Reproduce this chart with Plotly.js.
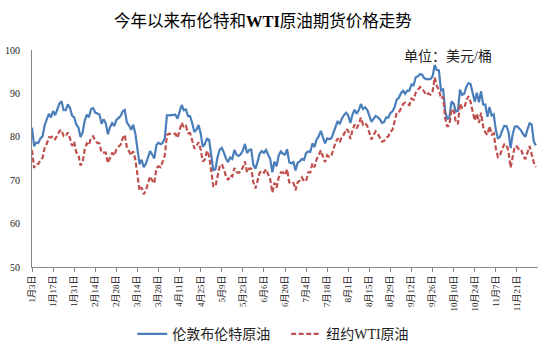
<!DOCTYPE html>
<html>
<head>
<meta charset="utf-8">
<script src="https://cdn.plot.ly/plotly-3.0.1.min.js"></script>
<style>html,body{margin:0;padding:0;background:#fff;}#chart{width:550px;height:362px;}</style>
</head>
<body>
<div id="chart"></div>
<script>
// Trading-day series, weekdays 2023-01-03 .. 2023-12-04 (index = trading day)
const tickLabels = ["1月3日","1月17日","1月31日","2月14日","2月28日","3月14日","3月28日","4月11日","4月25日","5月9日","5月23日","6月6日","6月20日","7月4日","7月18日","8月1日","8月15日","8月29日","9月12日","9月26日","10月10日","10月24日","11月7日","11月21日"];

const brentJan = [82.10,77.84,78.69,78.57,79.65,80.10,82.67,84.03,85.28,84.46,85.92,84.98,86.16,87.63,88.19,86.13,86.12,87.47,86.66,84.90,84.49];
const brentFeb = [82.84,82.17,79.94,80.99,83.69,85.09,84.50,86.39,86.61,85.58,85.38,85.14,83.00,84.07,83.05,80.60,82.21,83.16,82.45,83.89];
const brentMar = [84.31,84.75,85.83,86.18,83.29,82.66,81.59,82.78,80.77,77.45,73.69,74.70,72.97,73.79,75.32,76.69,75.91,74.99,78.12,78.65,78.28,78.60,79.77];
const brentApr = [84.93,84.94,84.99,85.12,85.12,84.18,85.61,87.33,86.09,86.31,84.76,84.77,83.12,81.10,81.66,82.73,80.77,77.69,78.37,79.54];
const brentMay = [79.31,75.32,72.33,72.50,75.30,77.01,77.44,76.41,74.98,74.17,75.23,74.91,76.96,75.86,75.58,75.99,76.84,78.36,76.26,76.95,77.07,73.54,72.66];
const brentJun = [74.28,76.13,76.71,76.29,76.95,75.96,74.79,71.84,74.29,73.20,75.67,76.61,76.09,75.90,77.12,74.14,73.85,74.18,72.26,74.03,74.34,74.90];
const brentJul = [74.65,76.25,76.65,76.52,78.47,77.69,79.40,80.11,81.36,79.87,78.50,79.63,79.46,79.64,81.07,82.74,83.64,82.92,84.24,84.99,85.56];
const brentAug = [84.91,83.20,85.14,86.24,85.34,86.17,87.55,86.40,86.81,86.21,84.89,83.45,84.12,84.80,84.46,84.03,83.21,83.36,84.48,84.42,85.49,85.86,86.86];
const brentSep = [88.55,89.00,90.04,90.60,89.92,90.65,90.64,92.06,91.88,93.70,93.93,94.43,94.34,93.53,93.30,93.27,93.29,93.96,96.55,95.38,95.31];
const brentOct = [90.71,90.92,85.81,84.07,84.58,88.15,87.65,85.82,86.00,90.89,89.65,89.90,91.50,92.38,92.16,89.83,88.07,90.13,87.93,90.48,87.45,87.41];
const brentNov = [84.63,86.85,84.89,85.18,81.61,79.54,80.01,81.43,82.52,82.47,81.18,77.42,80.61,82.32,82.45,81.96,81.42,80.58,79.98,81.68,83.10,82.83];
const brentDec = [78.88,78.03];

const wtiJan = [76.93,72.84,73.67,73.77,74.63,75.12,77.41,78.39,79.86,79.86,80.18,79.48,80.33,81.31,81.62,80.13,80.15,81.01,79.68,77.90,78.87];
const wtiFeb = [76.41,75.88,73.39,74.11,77.14,78.47,78.06,79.72,80.14,79.06,78.59,78.49,76.34,76.34,76.36,73.95,75.39,76.32,75.68,77.05];
const wtiMar = [77.69,78.16,79.68,80.46,77.58,76.66,75.72,76.68,74.80,71.33,67.61,68.35,66.74,67.64,69.33,70.90,69.96,69.26,72.81,73.20,72.97,74.37,75.67];
const wtiApr = [80.42,80.71,80.61,80.70,80.70,79.74,81.53,83.26,82.16,82.52,80.83,80.86,79.16,77.29,77.87,78.76,77.07,74.30,74.76,76.78];
const wtiMay = [75.66,71.66,68.60,68.56,71.34,73.16,73.71,72.56,70.87,70.04,71.11,70.86,72.83,71.86,71.69,71.99,72.91,74.34,71.83,72.67,72.67,69.46,68.09];
const wtiJun = [70.10,71.74,72.15,71.74,72.53,71.29,70.17,67.12,69.42,68.27,70.62,71.78,71.78,71.19,72.53,69.51,69.16,69.37,67.70,69.56,69.86,70.64];
const wtiJul = [69.79,69.79,71.79,71.80,73.86,72.99,74.83,75.75,76.89,75.42,74.15,75.75,75.35,75.63,77.07,78.74,79.63,78.78,80.09,80.58,81.80];
const wtiAug = [81.37,79.49,81.55,82.82,81.94,82.92,84.40,82.82,83.19,82.51,80.99,79.38,80.39,81.25,80.72,79.64,78.89,79.05,79.83,80.10,81.16,81.63,83.63];
const wtiSep = [85.55,85.55,86.69,87.54,87.87,87.51,87.29,88.84,88.52,90.16,90.77,91.48,91.20,90.28,89.63,90.03,89.68,90.39,93.68,91.71,90.79];
const wtiOct = [88.82,89.23,84.22,82.31,82.79,86.38,85.97,83.49,82.91,87.69,86.66,86.66,88.32,89.37,88.08,85.49,83.74,85.39,83.21,85.54,82.31,81.02];
const wtiNov = [80.44,82.46,80.51,80.82,77.37,75.33,75.74,77.17,78.26,78.26,76.66,72.90,75.89,77.83,77.77,77.10,77.10,75.54,74.86,76.41,77.86,75.96];
const wtiDec = [74.07,73.04];

const brent = [].concat(brentJan,brentFeb,brentMar,brentApr,brentMay,brentJun,brentJul,brentAug,brentSep,brentOct,brentNov,brentDec);
const wti = [].concat(wtiJan,wtiFeb,wtiMar,wtiApr,wtiMay,wtiJun,wtiJul,wtiAug,wtiSep,wtiOct,wtiNov,wtiDec);
const idx = brent.map((_, i) => i);
const idxW = wti.map((_, i) => i);
const tickVals = tickLabels.map((_, i) => i * 10);

const serif = "Liberation Serif, 'Noto Sans CJK SC', serif";

const traces = [
  {x: idx, y: brent, type: 'scatter', mode: 'lines', name: '伦敦布伦特原油',
   line: {color: '#4a7ebb', width: 2.2}},
  {x: idxW, y: wti, type: 'scatter', mode: 'lines', name: '纽约WTI原油',
   line: {color: '#c0504d', width: 2.2, dash: '5px,2.5px'}}
];

const layout = {
  width: 550, height: 362,
  margin: {l: 32, r: 12, t: 50, b: 89},
  paper_bgcolor: '#fff', plot_bgcolor: '#fff',
  showlegend: true,
  title: {text: '今年以来布伦特和<b>WTI</b>原油期货价格走势', x: 0.478, xref: 'container', xanchor: 'center',
          y: 0.94, yref: 'container', yanchor: 'middle',
          font: {family: serif, size: 16.5, color: '#000'}},
  xaxis: {range: [0, 240], showgrid: false, zeroline: false, showline: true, linecolor: '#868686', linewidth: 1,
          tickmode: 'array', tickvals: tickVals, ticktext: tickLabels, tickangle: -90,
          ticks: 'outside', ticklen: 4, tickcolor: '#868686',
          tickfont: {family: serif, size: 9, color: '#222'}},
  yaxis: {range: [50, 100], showgrid: false, zeroline: false, showline: true, linecolor: '#868686', linewidth: 1,
          tickmode: 'array', tickvals: [50,60,70,80,90,100], ticks: '', ticklabelstandoff: 9,
          tickfont: {family: serif, size: 10, color: '#222'}},
  legend: {orientation: 'h', x: 0.198, xanchor: 'left', y: -0.31, yanchor: 'middle',
           entrywidth: 109, entrywidthmode: 'pixels',
           font: {family: serif, size: 14, color: '#222'}},
  annotations: [{text: '单位：美元/桶', xref: 'paper', yref: 'paper', x: 0.822, y: 0.97,
                 xanchor: 'center', yanchor: 'middle', showarrow: false,
                 font: {family: serif, size: 14, color: '#222'}}]
};

Plotly.newPlot('chart', traces, layout, {displayModeBar: false, staticPlot: true});
</script>
</body>
</html>
